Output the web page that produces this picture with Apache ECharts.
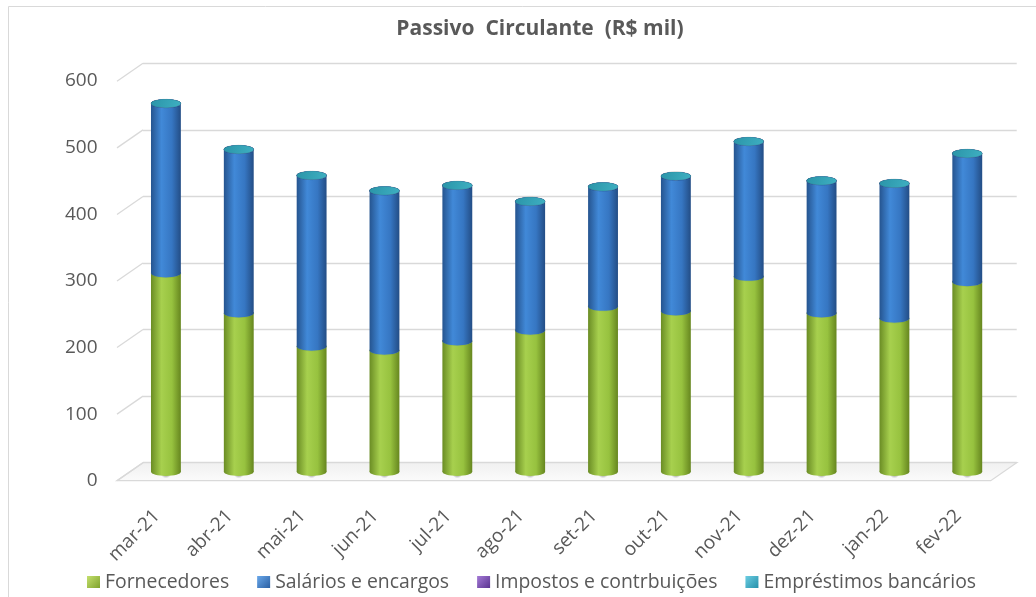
<!DOCTYPE html>
<html><head><meta charset="utf-8">
<script src="https://cdn.jsdelivr.net/npm/echarts@6/dist/echarts.min.js"></script>
<style>html,body{margin:0;padding:0;background:#fff}#c{width:1036px;height:597px}</style>
</head><body><div id="c"></div>
<script>
const categories = ['mar-21','abr-21','mai-21','jun-21','jul-21','ago-21','set-21','out-21','nov-21','dez-21','jan-22','fev-22'];
const fornecedores = [298, 238, 188, 182, 196, 212, 248, 241, 293, 238, 230, 285];
const salarios = [255, 246, 257, 240, 234, 194, 180, 203, 203, 199, 203, 193];
const impostos = [0, 0, 0, 0, 0, 0, 0, 0, 0, 0, 0, 0];
const emprestimos = [0, 0, 0, 0, 0, 0, 0, 0, 0, 0, 0, 0];
const yTicks = [0, 100, 200, 300, 400, 500, 600];
const seriesNames = ['Fornecedores', 'Salários e encargos', 'Impostos e contrbuições', 'Empréstimos bancários'];

const FONT = 'Open Sans';
const TXT = '#595959';
const G = echarts.graphic;

const palettes = [
  {side: [[0,'#6a8c24'],[0.35,'#a7d04e'],[0.7,'#97c23f'],[1,'#66861f']], cap: ['#9cc845','#b5da62'], legend: ['#c4e06e','#7fa22c']},
  {side: [[0,'#25548f'],[0.35,'#4189d8'],[0.7,'#3676c2'],[1,'#234d85']], cap: ['#3a7cc8','#4f95de'], legend: ['#6aa8ea','#2a5fa3']},
  {side: [[0,'#4f2a7a'],[0.35,'#8657bf'],[0.7,'#744aa8'],[1,'#4a2672']], cap: ['#7048a6','#8b62c4'], legend: ['#a47ad6','#5a3390']},
  {side: [[0,'#1f7f93'],[0.35,'#3cb0c8'],[0.7,'#309ab2'],[1,'#1c7488']], cap: ['#2a94a8','#3fb0c2'], legend: ['#6ccde2','#2590aa']}
];

function stops(arr){ return arr.map(s => ({offset: s[0], color: s[1]})); }

const allVals = [fornecedores, salarios, impostos, emprestimos];
const stacked = allVals.map((vals, s) => vals.map((v, i) => {
  let base = 0;
  for (let k = 0; k < s; k++) base += allVals[k][i];
  return [i, base, base + v];
}));

function cylinderRenderer(s) {
  const pal = palettes[s];
  return function(params, api) {
    const i = api.value(0), b = api.value(1), t = api.value(2);
    const pb = api.coord([i, b]);
    const pt = api.coord([i, t]);
    const w = api.size([1, 0])[0] * 0.41;
    const rx = w / 2, ry = w * 0.14;
    const side = new G.LinearGradient(0, 0, 1, 0, stops(pal.side));
    const children = [];
    if (s === 0) {
      children.push({type: 'ellipse', shape: {cx: pb[0], cy: pb[1] + 1, rx: w * 1.3, ry: 5.5},
        style: {fill: new G.RadialGradient(0.5, 0.5, 0.5, [{offset: 0, color: 'rgba(40,40,40,0.85)'}, {offset: 0.5, color: 'rgba(70,70,70,0.45)'}, {offset: 1, color: 'rgba(90,90,90,0)'}])}});
    }
    children.push({type: 'ellipse', shape: {cx: pb[0], cy: pb[1], rx: rx, ry: ry}, style: {fill: side}});
    if (pb[1] - pt[1] > 0.1) {
      children.push({type: 'rect', shape: {x: pb[0] - rx, y: pt[1], width: w, height: pb[1] - pt[1]}, style: {fill: side}});
    }
    children.push({type: 'ellipse', shape: {cx: pt[0], cy: pt[1], rx: rx, ry: ry},
      style: {fill: new G.LinearGradient(0, 0, 1, 1, [{offset: 0, color: pal.cap[0]}, {offset: 1, color: pal.cap[1]}]), stroke: 'rgba(0,0,0,0.12)', lineWidth: 0.6}});
    return {type: 'group', children: children};
  };
}

const DX = -26, DY = 18;

const option = {
  animation: false,
  backgroundColor: '#ffffff',
  title: {
    text: 'Passivo  Circulante  (R$ mil)',
    left: 535, top: 14, textAlign: 'center',
    textStyle: {fontFamily: FONT, fontSize: 21, fontWeight: 'bold', color: TXT}
  },
  graphic: [{type: 'rect', shape: {x: 8.5, y: 6.5, width: 1200, height: 800}, style: {fill: 'none', stroke: '#d9d9d9', lineWidth: 1}, z: 0}],
  legend: {
    left: 87, top: 571, padding: 0, itemGap: 28, itemWidth: 13, itemHeight: 12, icon: 'rect',
    textStyle: {fontFamily: FONT, fontSize: 19.4, color: TXT, lineHeight: 22},
    data: seriesNames
  },
  grid: [
    {left: 143, right: 19.3, top: 63.3, bottom: 134.3},
    {left: 129.5, right: 32.3, top: 72.2, bottom: 125.2},
    {left: 120.5, right: 41.3, top: 81, bottom: 116}
  ],
  xAxis: [
    {gridIndex: 0, type: 'value', min: 0, max: 1, show: false},
    {gridIndex: 1, type: 'category', data: categories, show: false},
    {gridIndex: 2, type: 'category', data: categories, axisLine: {show: false}, axisTick: {show: false},
     axisLabel: {rotate: 45, margin: 32, fontFamily: FONT, fontSize: 19, color: TXT, interval: 0}}
  ],
  yAxis: [
    {gridIndex: 0, type: 'value', min: 0, max: 600, interval: 100, axisLabel: {show: false}, axisLine: {show: false}, axisTick: {show: false},
     splitLine: {show: true, lineStyle: {color: '#d9d9d9', width: 1.3}}},
    {gridIndex: 1, type: 'value', min: 0, max: 600, interval: 100, show: false, splitLine: {show: false}},
    {gridIndex: 2, type: 'value', min: 0, max: 600, interval: 100, axisLine: {show: false}, axisTick: {show: false},
     splitLine: {show: false}, axisLabel: {margin: 23, fontFamily: FONT, fontSize: 19, color: TXT}}
  ],
  series: [
    {type: 'custom', name: 'floor', xAxisIndex: 0, yAxisIndex: 0, z: 1, silent: true, data: [[0, 0]],
     renderItem: function(params, api) {
       const p0 = api.coord([0, 0]), p1 = api.coord([1, 0]);
       return {type: 'polygon', shape: {points: [p0, p1, [p1[0] + DX, p1[1] + DY], [p0[0] + DX, p0[1] + DY]]},
         style: {fill: new G.LinearGradient(0, 0, 0, 1, [{offset: 0, color: '#f0f0f0'}, {offset: 1, color: '#fbfbfb'}]), stroke: '#d9d9d9', lineWidth: 1.3}};
     }},
    {type: 'custom', name: 'stubs', xAxisIndex: 0, yAxisIndex: 0, z: 1, silent: true, data: yTicks.map(v => [0, v]),
     renderItem: function(params, api) {
       const p = api.coord([0, api.value(1)]);
       return {type: 'line', shape: {x1: p[0], y1: p[1], x2: p[0] + DX, y2: p[1] + DY}, style: {stroke: '#d9d9d9', lineWidth: 1.3}};
     }}
  ].concat(seriesNames.map((name, s) => ({
    type: 'custom', name: name, xAxisIndex: 1, yAxisIndex: 1, z: 2 + s,
    itemStyle: {color: new G.LinearGradient(0, 0, 1, 1, [{offset: 0, color: palettes[s].legend[0]}, {offset: 1, color: palettes[s].legend[1]}])},
    data: stacked[s],
    renderItem: cylinderRenderer(s)
  })))
};

const chart = echarts.init(document.getElementById('c'));
chart.setOption(option);
</script></body></html>
